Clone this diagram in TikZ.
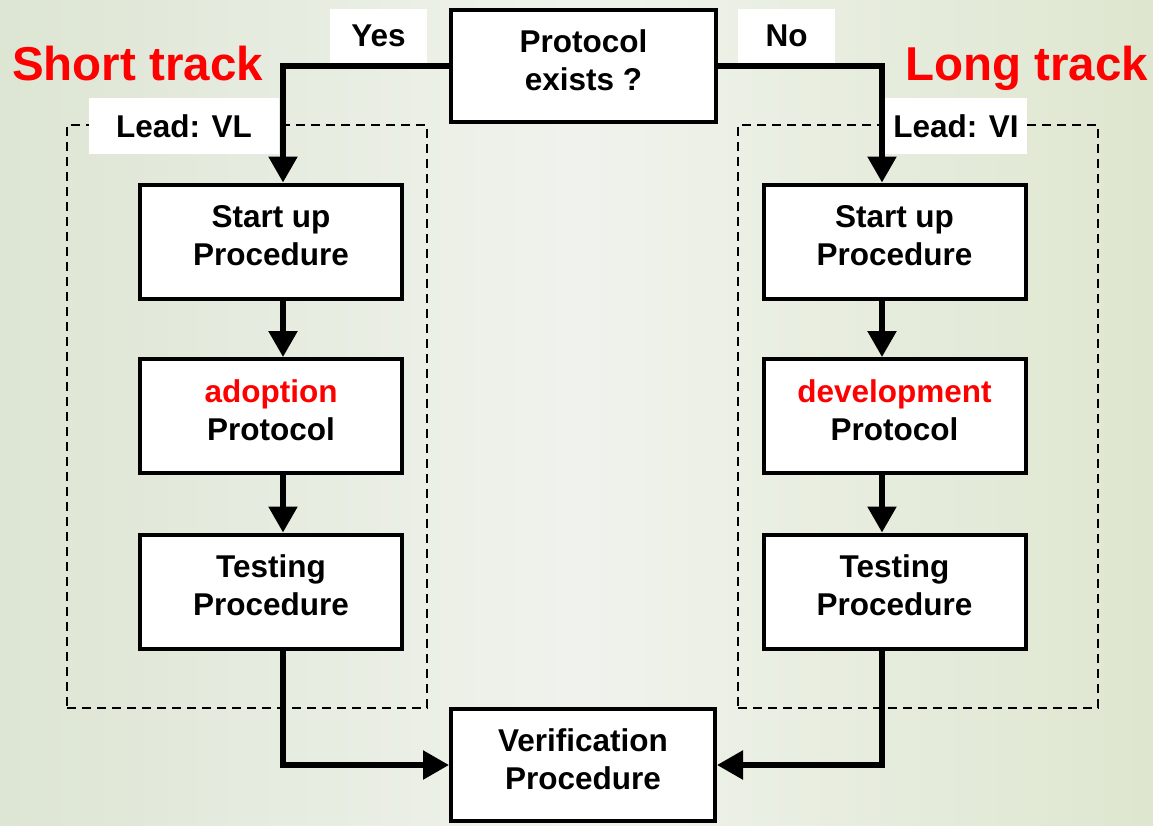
\documentclass[tikz,border=0pt]{standalone}
\usepackage{fontspec}
\setmainfont{Liberation Sans}
\usetikzlibrary{arrows.meta}
\definecolor{bgL}{RGB}{221,229,211}
\definecolor{bgM}{RGB}{240,243,237}
\definecolor{bgR}{RGB}{222,230,207}
\definecolor{trackred}{RGB}{255,0,0}
\begin{document}
\begin{tikzpicture}[x=1pt,y=-1pt,
  txt/.style={font=\bfseries\fontsize{31.5}{38}\selectfont},
  box/.style={txt, draw=black, line width=4pt, fill=white, inner sep=0pt,
    align=center, text depth=12pt, minimum width=262pt, minimum height=114pt},
  tag/.style={txt, fill=white, inner sep=0pt, minimum height=56pt},
  frame/.style={draw=black, line width=2pt, dash pattern=on 9pt off 6pt},
  flow/.style={line width=5.5pt, -{Triangle[width=28pt,length=26pt]}},
  track/.style={font=\bfseries\fontsize{47.5}{56}\selectfont, text=trackred, inner sep=0pt}
]
\useasboundingbox (0,0) rectangle (1153,825);
\shade[left color=bgL, right color=bgR, middle color=bgM] (0,0) rectangle (1153,825);

% group frames
\node[frame, minimum width=360pt, minimum height=583pt, inner sep=0pt] (frameL) at (247,416.5) {};
\node[frame, minimum width=360pt, minimum height=583pt, inner sep=0pt] (frameR) at (918,416.5) {};

% frame labels
\node[tag, minimum width=190pt] (leadL) at (184,126) {Lead: VL};
\node[tag, minimum width=142pt] (leadR) at (956,126) {Lead: VI};

% yes / no labels
\node[tag, minimum width=97pt, minimum height=55pt] (yes) at (378.5,36) {Yes};
\node[tag, minimum width=97pt, minimum height=55pt] (no) at (786.5,36) {No};

% track titles
\node[track, anchor=base] (short) at (137.5,80) {Short track};
\node[track, anchor=base] (long) at (1026.5,80) {Long track};

% boxes
\node[box, minimum width=265pt, minimum height=112pt] (proto) at (583.5,66) {Protocol\\exists ?};

\node[box] (sL) at (271,241.5) {Start up\\Procedure};
\node[box] (aL) at (271,416) {\textcolor{trackred}{adoption}\\Protocol};
\node[box] (tL) at (271,591.5) {Testing\\Procedure};

\node[box] (sR) at (894.5,241.5) {Start up\\Procedure};
\node[box] (aR) at (894.5,416) {\textcolor{trackred}{development}\\Protocol};
\node[box] (tR) at (894.5,591.5) {Testing\\Procedure};

\node[box, minimum width=264pt, minimum height=112pt] (ver) at (583,765) {Verification\\Procedure};

% connectors
\draw[flow] (proto.west) -| ([xshift=12pt]sL.north);
\draw[flow] (proto.east) -| ([xshift=-12.5pt]sR.north);

\draw[flow] ([xshift=12pt]sL.south) -- ([xshift=12pt]aL.north);
\draw[flow] ([xshift=12pt]aL.south) -- ([xshift=12pt]tL.north);
\draw[flow] ([xshift=-12.5pt]sR.south) -- ([xshift=-12.5pt]aR.north);
\draw[flow] ([xshift=-12.5pt]aR.south) -- ([xshift=-12.5pt]tR.north);

\draw[flow] ([xshift=12pt]tL.south) |- (ver.west);
\draw[flow] ([xshift=-12.5pt]tR.south) |- (ver.east);
\end{tikzpicture}
\end{document}
